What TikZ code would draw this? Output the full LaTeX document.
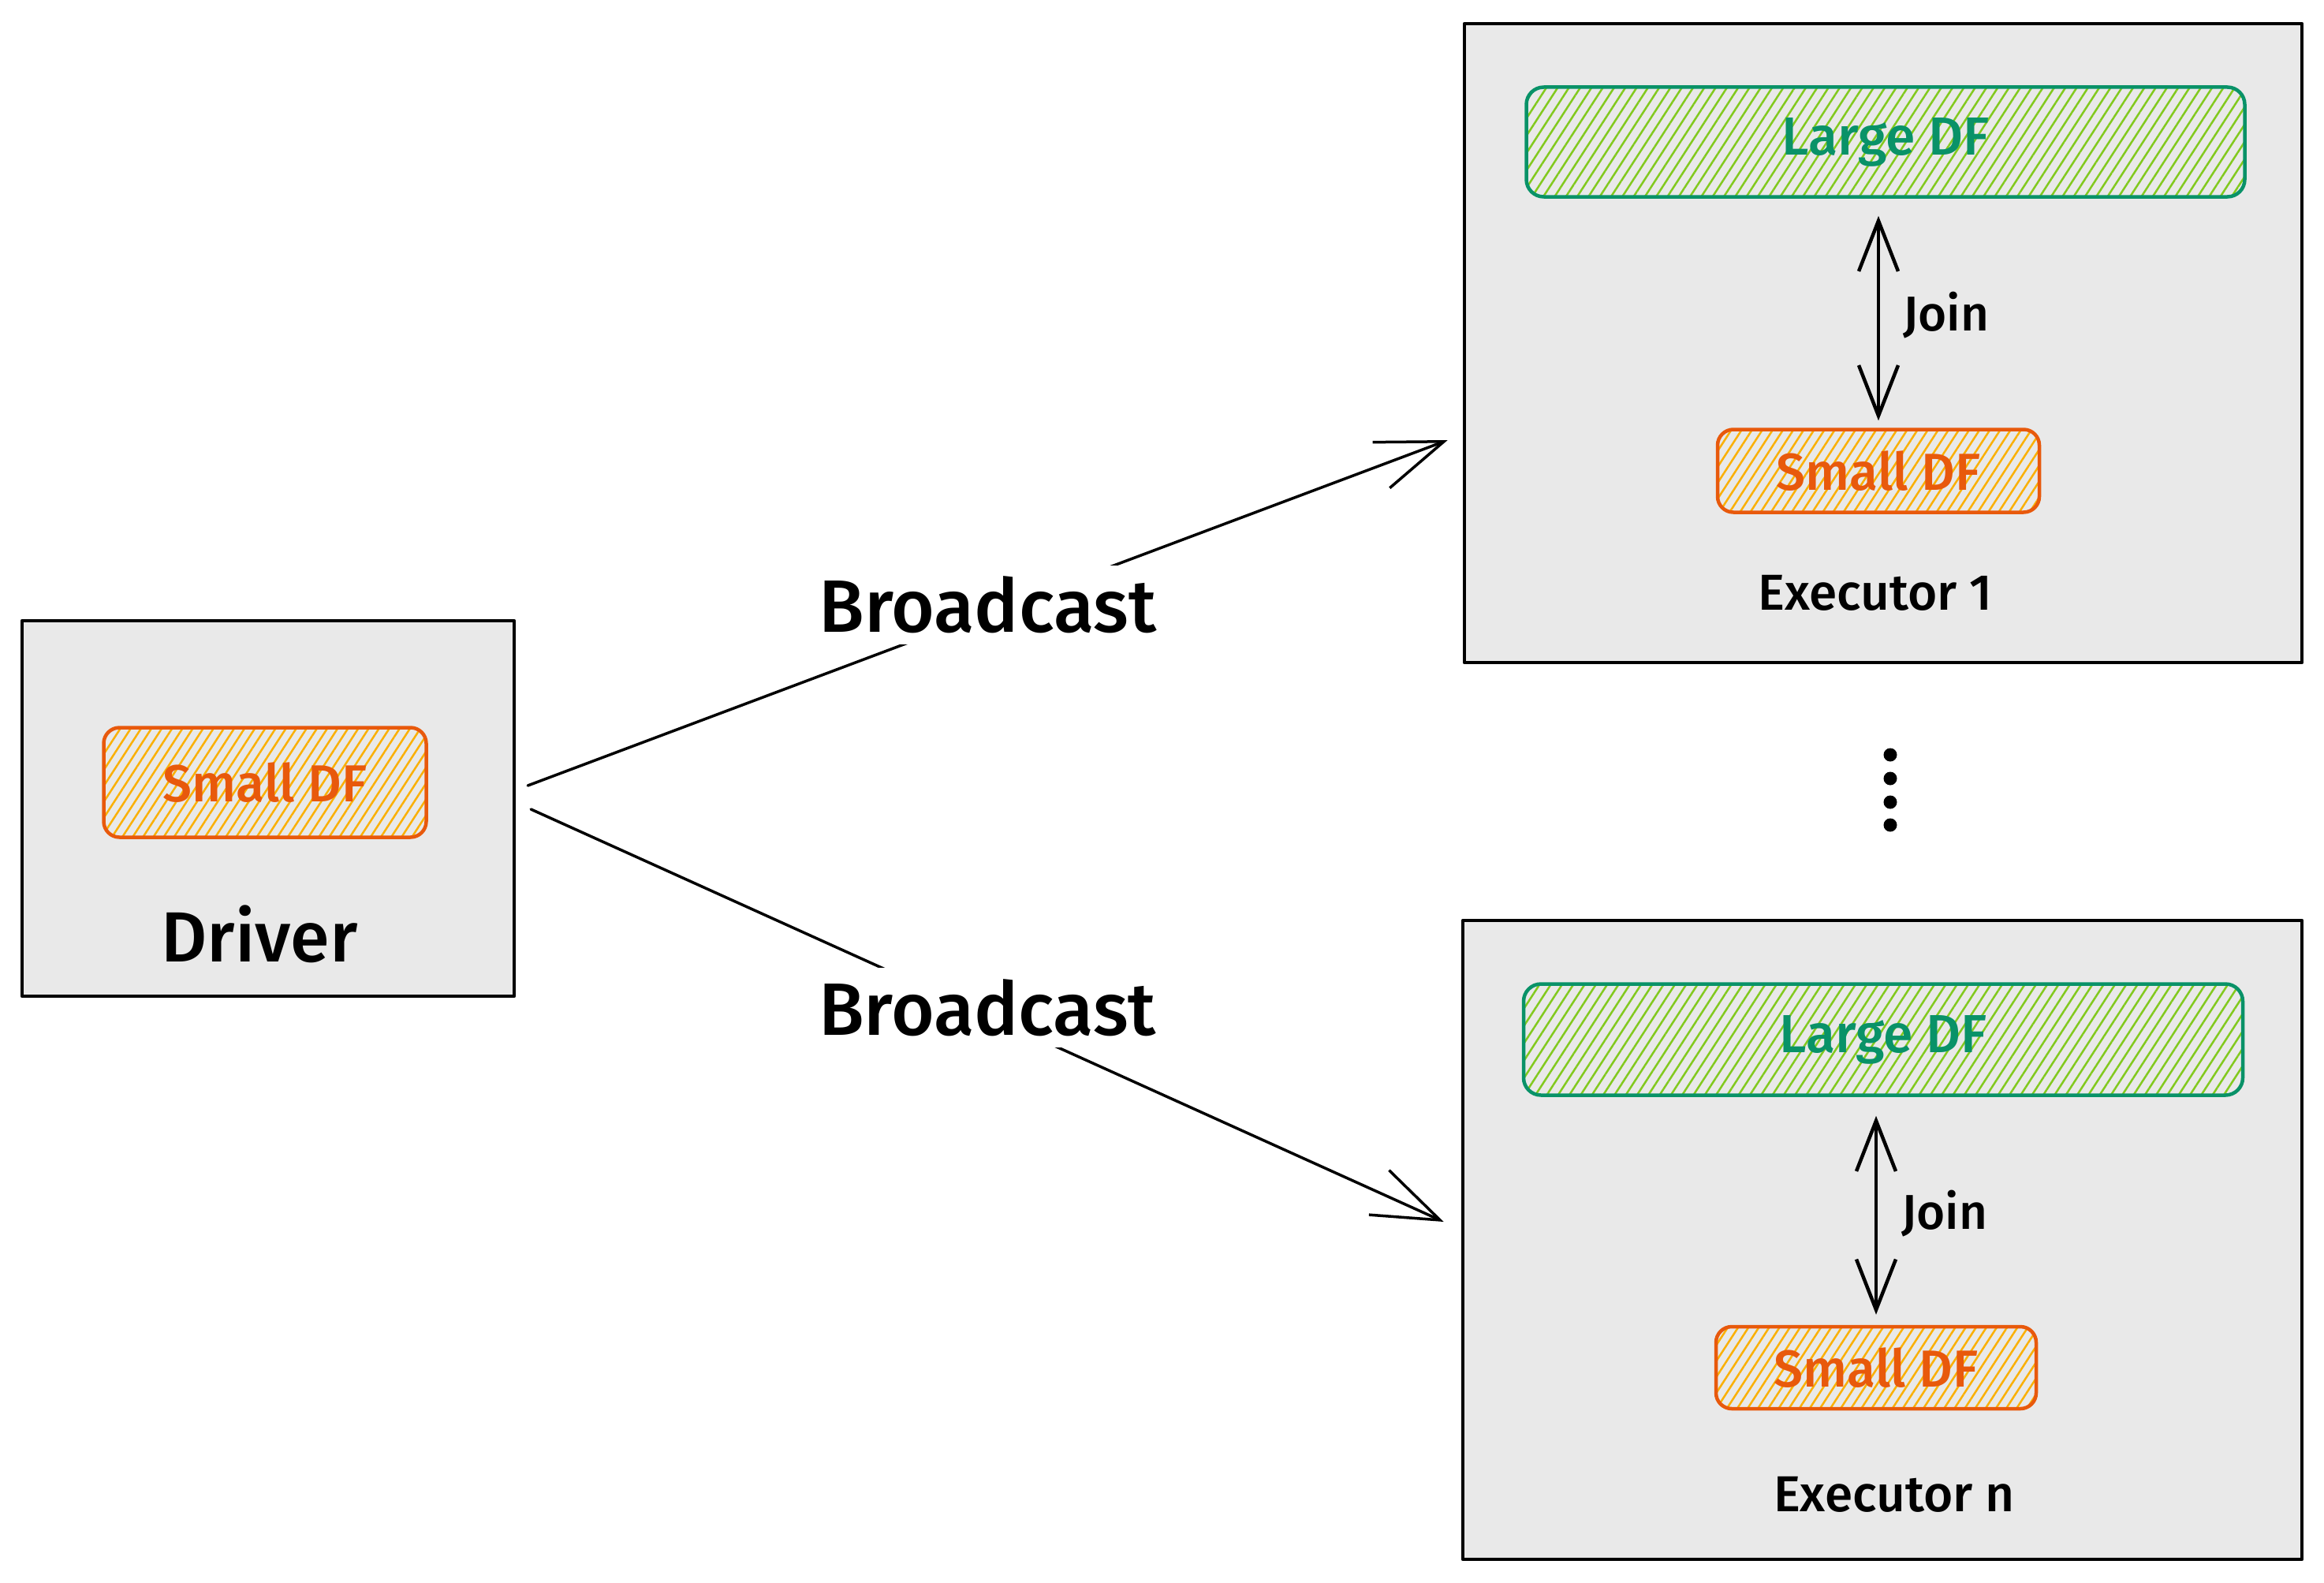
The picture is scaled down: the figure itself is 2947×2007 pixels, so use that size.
\documentclass[tikz,border=0pt]{standalone}
\usepackage{fontspec}
\setmainfont{Fira Sans}[UprightFont={Fira Sans Medium}]
\usetikzlibrary{arrows.meta,patterns.meta}
\definecolor{boxgray}{HTML}{E9E9E9}
\definecolor{orangeline}{HTML}{E8590C}
\definecolor{orangehatch}{HTML}{FAB005}
\definecolor{greenline}{HTML}{099268}
\definecolor{greenhatch}{HTML}{82C91E}
\newcommand\myfs[1]{\fontsize{#1}{#1}\selectfont}
\begin{document}
\begin{tikzpicture}[x=1pt,y=-1pt,line cap=round,line join=round,
  box/.style={draw=black, line width=4.5pt, fill=boxgray, inner sep=0pt},
  smalldf/.style={draw=orangeline, line width=4.5pt, rounded corners=20pt,
    pattern={Lines[angle=57,distance=11pt,line width=2.5pt]}, pattern color=orangehatch,
    inner sep=0pt, text=orangeline, font=\myfs{66}},
  largedf/.style={draw=greenline, line width=4.5pt, rounded corners=22pt,
    pattern={Lines[angle=57,distance=12pt,line width=2.5pt]}, pattern color=greenhatch,
    inner sep=0pt, text=greenline, font=\myfs{68}},
  lbl/.style={font=\myfs{62}, text=black, inner sep=0pt},
  bclbl/.style={font=\myfs{94}, text=black, fill=white, inner sep=14pt, yshift=10pt},
  bcast/.style={line width=3.5pt, -{Straight Barb[length=85pt,width=62pt,line width=3.5pt]}},
  joinarr/.style={line width=4.5pt, {Straight Barb[length=64pt,width=50pt,line width=4.5pt]}-{Straight Barb[length=64pt,width=50pt,line width=4.5pt]}},
  dotn/.style={circle, fill=black, inner sep=0pt, minimum size=17pt}
]
\useasboundingbox (0,0) rectangle (2947,2007);

% Driver
\node[box, minimum width=624pt, minimum height=476pt] (driver) at (340,1025) {};
\node[smalldf, minimum width=409pt, minimum height=139pt] (dsdf) at (336,992) {Small DF};
\node[lbl, font=\myfs{90}] (dlbl) at (329,1184) {Driver};

% Executor 1
\node[box, minimum width=1062pt, minimum height=810pt] (ex1) at (2388,435) {};
\node[largedf, minimum width=911pt, minimum height=139pt] (ldf1) at (2391,180) {\raisebox{-6pt}{Large DF}};
\node[smalldf, minimum width=408pt, minimum height=105pt] (sdf1) at (2382,597) {Small DF};
\draw[joinarr, shorten <=23pt, shorten >=9pt] (sdf1.north |- ldf1.south) -- (sdf1.north);
\node[lbl, anchor=west] (join1) at (2413,400) {Join};
\node[lbl, font=\myfs{64}] (ex1lbl) at (2378,752) {Executor 1};

% dots
\node[dotn] (dot1) at (2397,957) {};
\node[dotn] (dot2) at (2397,987) {};
\node[dotn] (dot3) at (2397,1017) {};
\node[dotn] (dot4) at (2397,1046) {};

% Executor n
\node[box, minimum width=1064pt, minimum height=810pt] (exn) at (2387,1572) {};
\node[largedf, minimum width=912pt, minimum height=141pt] (ldfn) at (2388,1318) {\raisebox{-6pt}{Large DF}};
\node[smalldf, minimum width=406pt, minimum height=104pt] (sdfn) at (2379,1734) {Small DF};
\draw[joinarr, shorten <=24pt, shorten >=13pt] (sdfn.north |- ldfn.south) -- (sdfn.north);
\node[lbl, anchor=west] (joinn) at (2411,1539) {Join};
\node[lbl, font=\myfs{64}] (exnlbl) at (2402,1895) {Executor n};

% Broadcast arrows
\draw[bcast] ([shift={(15,-29)}]driver.east) -- node[bclbl] (bc1) {Broadcast} ([shift={(-19,123)}]ex1.west);
\draw[bcast] ([shift={(19,1)}]driver.east) -- node[bclbl] (bc2) {Broadcast} ([shift={(-22,-23)}]exn.west);
\end{tikzpicture}
\end{document}
